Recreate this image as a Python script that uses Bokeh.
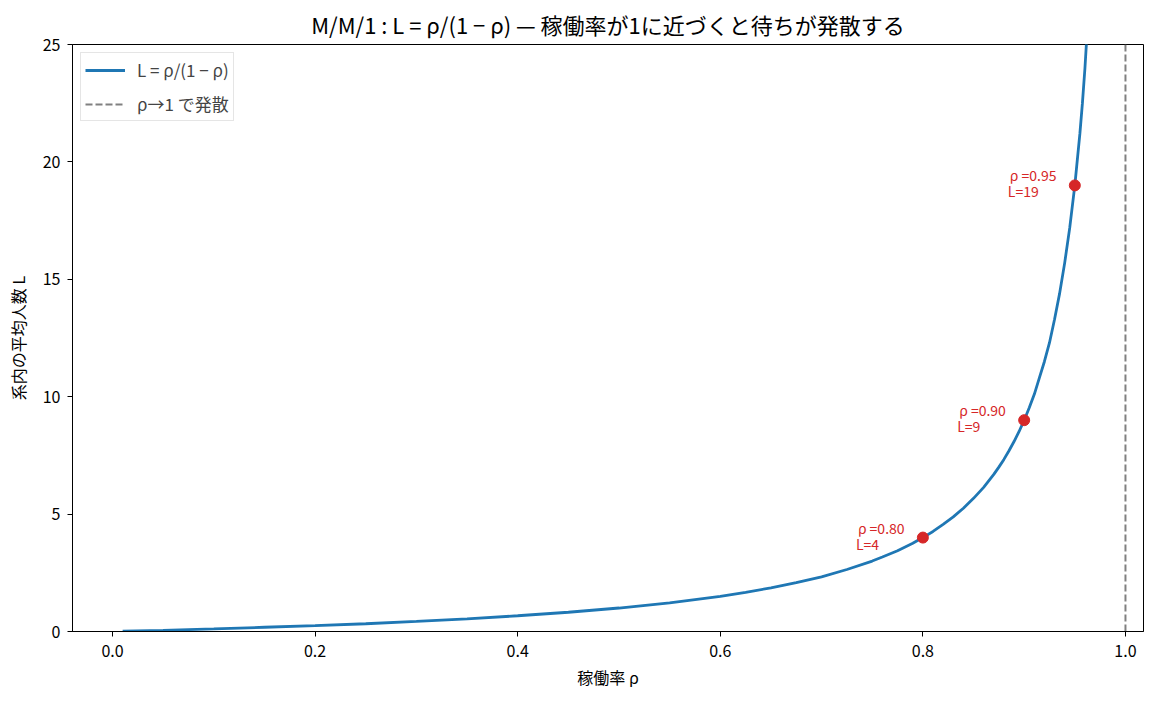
from bokeh.plotting import figure
from bokeh.models import ColumnDataSource, FixedTicker, Legend, LegendItem
from bokeh.core.properties import value
from bokeh.embed import file_html
from bokeh.resources import INLINE

FONT = "Noto Sans CJK JP"

# curve points
rho = [0.01, 0.05, 0.1, 0.15, 0.2, 0.25, 0.3, 0.35, 0.4, 0.45, 0.5, 0.55,
       0.6, 0.625, 0.65, 0.675, 0.7, 0.725, 0.75, 0.76, 0.775, 0.79, 0.8,
       0.81, 0.82, 0.83, 0.84, 0.85, 0.86, 0.87, 0.875, 0.88, 0.885, 0.89,
       0.895, 0.9, 0.905, 0.91, 0.915, 0.92, 0.925, 0.93, 0.935, 0.94, 0.945,
       0.95, 0.955, 0.9575, 0.96, 0.965]
L = [0.01, 0.05, 0.11, 0.18, 0.25, 0.33, 0.43, 0.54, 0.67, 0.82, 1.0, 1.22,
     1.5, 1.67, 1.86, 2.08, 2.33, 2.64, 3.0, 3.17, 3.44, 3.76, 4.0,
     4.26, 4.56, 4.88, 5.25, 5.67, 6.14, 6.69, 7.0, 7.33, 7.7, 8.09,
     8.52, 9.0, 9.53, 10.1, 10.8, 11.5, 12.3, 13.3, 14.4, 15.7, 17.2,
     19.0, 21.2, 22.5, 24.0, 27.6]

# marked points
mark_rho = [0.80, 0.90, 0.95]
mark_L = [4, 9, 19]
mark_top = ["ρ =0.80", "ρ =0.90", "ρ =0.95"]
mark_bottom = ["L=4", "L=9", "L=19"]

x_ticks = [0.0, 0.2, 0.4, 0.6, 0.8, 1.0]
y_ticks = [0, 5, 10, 15, 20, 25]

p = figure(width=1147, height=693, output_backend="svg", toolbar_location=None,
           x_range=(-0.0395, 1.0178), y_range=(0, 25),
           title="M/M/1 : L = ρ/(1 − ρ) — 稼働率が1に近づくと待ちが発散する",
           min_border_left=72, min_border_right=4, min_border_top=42,
           min_border_bottom=62)

p.title.align = "center"
p.title.text_font = FONT
p.title.text_font_size = "22px"
p.title.text_font_style = "normal"
p.title.text_color = "#000000"

p.grid.visible = False
p.outline_line_color = "black"
p.outline_line_width = 1

for ax in (p.xaxis, p.yaxis):
    ax.major_label_text_font = FONT
    ax.major_label_text_font_size = "16px"
    ax.major_label_text_color = "black"
    ax.axis_label_text_font = FONT
    ax.axis_label_text_font_size = "16px"
    ax.axis_label_text_font_style = "normal"
    ax.axis_label_text_color = "black"
    ax.minor_tick_line_color = None
    ax.major_tick_in = 0
    ax.major_tick_out = 5
    ax.axis_line_color = "black"

p.xaxis.ticker = FixedTicker(ticks=x_ticks)
p.xaxis.major_label_overrides = {t: f"{t:.1f}" for t in x_ticks}
p.yaxis.ticker = FixedTicker(ticks=y_ticks)
p.xaxis.axis_label = "稼働率 ρ"
p.yaxis.axis_label = "系内の平均人数 L"
p.xaxis.major_label_standoff = 8
p.yaxis.major_label_standoff = 7
p.xaxis.axis_label_standoff = 5
p.yaxis.axis_label_standoff = 10

curve = p.line(rho, L, line_width=2.8, color="#1f77b4")

# dashed asymptote at rho = 1
dash_r = p.line([1.0, 1.0], [0, 25], line_color="gray", line_dash="7 3",
                line_width=2)

src = ColumnDataSource(dict(x=mark_rho, y=mark_L, top=mark_top, bottom=mark_bottom))
p.scatter("x", "y", source=src, size=11, color="#d62728")
p.text("x", "y", text="top", source=src, text_font_size="14px",
       text_color="#d62728", x_offset=-65, y_offset=-10,
       text_baseline="alphabetic", text_align="left", text_font=value(FONT))
p.text("x", "y", text="bottom", source=src, text_font_size="14px",
       text_color="#d62728", x_offset=-67, y_offset=6,
       text_baseline="alphabetic", text_align="left", text_font=value(FONT))

legend = Legend(items=[LegendItem(label="L = ρ/(1 − ρ)", renderers=[curve]),
                       LegendItem(label="ρ→1 で発散", renderers=[dash_r])],
                location="top_left")
legend.label_text_font = FONT
legend.label_text_font_size = "17px"
legend.glyph_width = 40
legend.glyph_height = 20
legend.label_height = 20
legend.spacing = 9
legend.padding = 4
legend.margin = 8
legend.label_standoff = 12
legend.border_line_color = "#cccccc"
legend.border_line_width = 1
p.add_layout(legend)

open("out.html", "w").write(file_html(p, INLINE))
